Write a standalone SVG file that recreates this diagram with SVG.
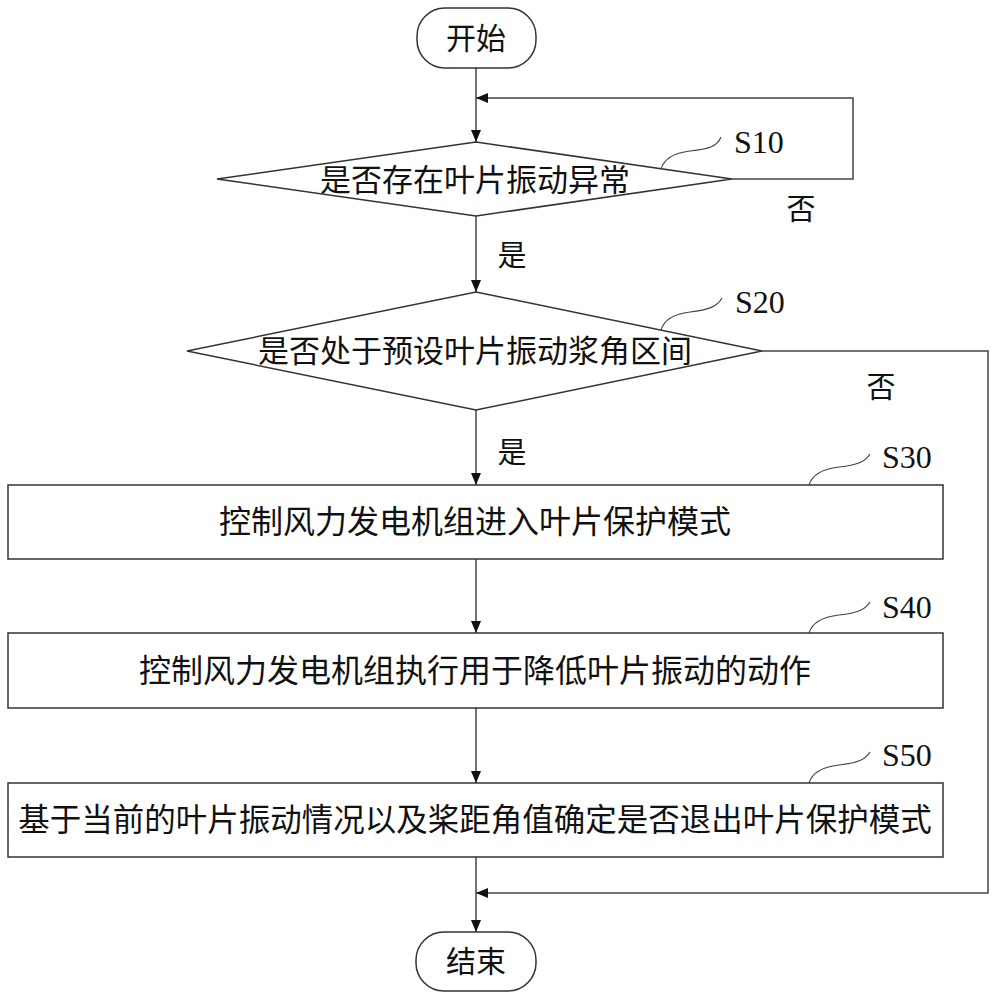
<svg xmlns="http://www.w3.org/2000/svg" width="996" height="1000" viewBox="0 0 996 1000">
<defs>
<marker id="arr" viewBox="0 0 12 10" refX="12" refY="5" markerWidth="12" markerHeight="10" markerUnits="userSpaceOnUse" orient="auto">
<path d="M0,0 L12,5 L0,10 Z" fill="#111"/>
</marker>
</defs>
<style>
.shape{fill:#fff;stroke:#333;stroke-width:1.5}
.line{fill:none;stroke:#444;stroke-width:1.5}
.lead{fill:none;stroke:#444;stroke-width:1.2}
.cn{font-family:"Noto Sans CJK SC","Noto Sans",sans-serif;fill:#111;text-anchor:middle}
.lbl{font-family:"Liberation Serif","Times New Roman",serif;font-size:32px;fill:#111}
</style>
<rect width="996" height="1000" fill="#fff"/>
<g id="connectors">
<line class="line" x1="476" y1="68" x2="476" y2="142" marker-end="url(#arr)"/>
<polyline class="line" points="732,179 853,179 853,98 476,98" marker-end="url(#arr)"/>
<line class="line" x1="476" y1="216" x2="476" y2="292" marker-end="url(#arr)"/>
<line class="line" x1="476" y1="410" x2="476" y2="485" marker-end="url(#arr)"/>
<polyline class="line" points="762,351 988,351 988,893 476,893" marker-end="url(#arr)"/>
<line class="line" x1="476" y1="559" x2="476" y2="633" marker-end="url(#arr)"/>
<line class="line" x1="476" y1="708" x2="476" y2="783" marker-end="url(#arr)"/>
<line class="line" x1="476" y1="857" x2="476" y2="932" marker-end="url(#arr)"/>
<text class="cn" x="512" y="266" font-size="29">是</text>
<text class="cn" x="801" y="220" font-size="29">否</text>
<text class="cn" x="512" y="463" font-size="29">是</text>
<text class="cn" x="881" y="398" font-size="29">否</text>
</g>
<g id="start">
<rect class="shape" x="417" y="8" width="119" height="60" rx="28" ry="28"/>
<text class="cn" x="476" y="49" font-size="30">开始</text>
</g>
<g id="s10">
<polygon class="shape" points="476,142 732,179 476,216 217,179"/>
<text class="cn" x="475" y="191" font-size="31">是否存在叶片振动异常</text>
<path class="lead" d="M661,169 C664,159 673,153 690,151 C708,149 717,147 721,137"/>
<text class="lbl" x="734" y="153">S10</text>
</g>
<g id="s20">
<polygon class="shape" points="476,292 762,351 476,410 187,351"/>
<text class="cn" x="475" y="362" font-size="31">是否处于预设叶片振动浆角区间</text>
<path class="lead" d="M661,330 C664,320 673,314 690,312 C708,310 717,307 722,298"/>
<text class="lbl" x="735" y="313">S20</text>
</g>
<g id="s30">
<rect class="shape" x="8" y="485" width="935" height="74"/>
<text class="cn" x="475" y="533" font-size="32">控制风力发电机组进入叶片保护模式</text>
<path class="lead" d="M809,485 C812,475 822,469 839,467 C857,465 865,462 870,454"/>
<text class="lbl" x="882" y="468">S30</text>
</g>
<g id="s40">
<rect class="shape" x="8" y="633" width="935" height="75"/>
<text class="cn" x="475" y="682" font-size="32">控制风力发电机组执行用于降低叶片振动的动作</text>
<path class="lead" d="M809,633 C812,623 822,617 839,615 C857,613 865,610 870,602"/>
<text class="lbl" x="882" y="618">S40</text>
</g>
<g id="s50">
<rect class="shape" x="8" y="783" width="935" height="74"/>
<text class="cn" x="475" y="831" font-size="31.5">基于当前的叶片振动情况以及桨距角值确定是否退出叶片保护模式</text>
<path class="lead" d="M809,783 C812,773 822,767 839,765 C857,763 865,760 870,752"/>
<text class="lbl" x="882" y="766">S50</text>
</g>
<g id="end">
<rect class="shape" x="416" y="932" width="120" height="59" rx="28" ry="28"/>
<text class="cn" x="476" y="972" font-size="30">结束</text>
</g>
</svg>
